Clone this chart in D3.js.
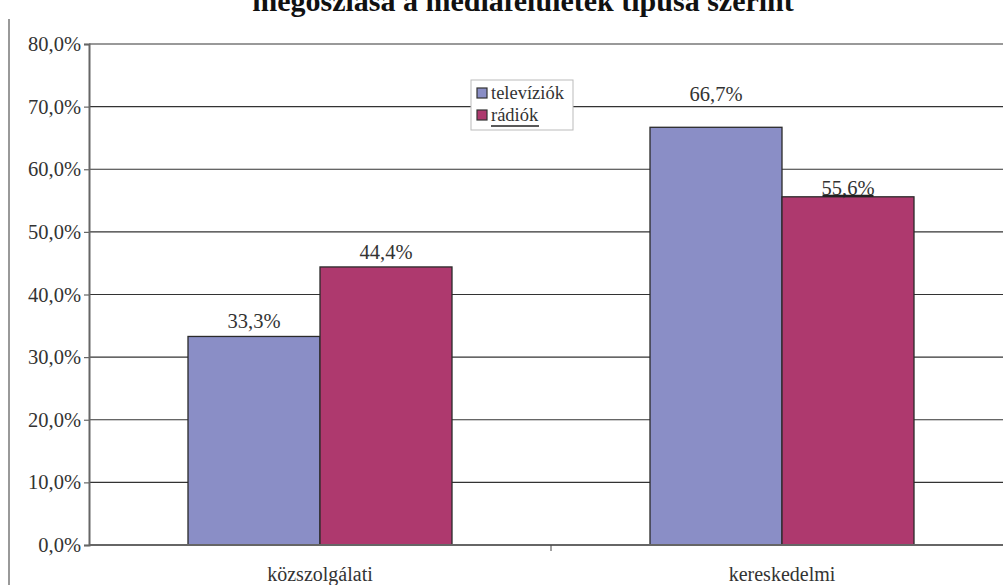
<!DOCTYPE html>
<html>
<head>
<meta charset="utf-8">
<script src="https://cdn.jsdelivr.net/npm/d3@7"></script>
<style>
  html, body { margin: 0; padding: 0; background: #fff; }
  svg { display: block; }
</style>
</head>
<body>
<svg id="chart" width="1003" height="585"></svg>
<script>
// Share of media outlets by type (public service vs. commercial)
const categories = ["közszolgálati", "kereskedelmi"];
const seriesNames = ["televíziók", "rádiók"];
const televiziok = [33.3, 66.7];
const radiok = [44.4, 55.6];
const valueLabels = [["33,3%", "66,7%"], ["44,4%", "55,6%"]];
const yTicks = [0, 10, 20, 30, 40, 50, 60, 70, 80];
const yTickLabels = ["0,0%", "10,0%", "20,0%", "30,0%", "40,0%", "50,0%", "60,0%", "70,0%", "80,0%"];
const titleText = "megoszlása a médiafelületek típusa szerint";

const colors = ["#8a8ec6", "#ae396e"];
const seriesValues = [televiziok, radiok];
// gap (px) between a bar top and its label baseline, [series][category]
const labelGap = [[8, 26], [8, 2]];

const svg = d3.select("#chart");
const serif = "'Liberation Serif', 'DejaVu Serif', serif";

const plotLeft = 89, plotRight = 1013, plotTop = 44, plotBottom = 545;

const x = d3.scaleBand().domain(categories).range([plotLeft, plotRight]).paddingInner(0).paddingOuter(0);
const xSeries = d3.scaleBand().domain(seriesNames)
  .range([0, x.bandwidth()]).paddingOuter(0.75).paddingInner(0);
const y = d3.scaleLinear().domain([0, 80]).range([plotBottom, plotTop]);

// outer frame line on the left
svg.append("line")
  .attr("x1", 9).attr("x2", 9).attr("y1", 19).attr("y2", 585)
  .attr("stroke", "#555").attr("stroke-width", 1.2);

// title (runs off the top edge of the page)
svg.append("text")
  .attr("x", 523).attr("y", 11)
  .attr("text-anchor", "middle")
  .attr("font-family", serif)
  .attr("font-weight", "bold")
  .attr("font-size", 30)
  .attr("fill", "#111")
  .text(titleText);

// horizontal gridlines
svg.append("g").selectAll("line")
  .data(yTicks.filter(d => d > 0))
  .join("line")
  .attr("x1", plotLeft).attr("x2", 1003)
  .attr("y1", d => y(d)).attr("y2", d => y(d))
  .attr("stroke", d => d === 80 ? "#999" : "#333")
  .attr("stroke-width", d => d === 80 ? 2 : 1.2);

// y axis
const yAxis = d3.axisLeft(y)
  .tickValues(yTicks)
  .tickFormat((d, i) => yTickLabels[i])
  .tickSize(5)
  .tickPadding(3);
const gy = svg.append("g").attr("transform", `translate(${plotLeft},0)`).call(yAxis);
gy.select(".domain").attr("stroke", "#666").attr("stroke-width", 2);
gy.selectAll(".tick line").attr("stroke", "#666").attr("stroke-width", 1.2);
gy.selectAll(".tick text")
  .attr("font-family", serif).attr("font-size", 20.5).attr("fill", "#333");

// bars
const groups = svg.append("g").selectAll("g")
  .data(categories)
  .join("g")
  .attr("transform", d => `translate(${x(d)},0)`);

groups.selectAll("rect")
  .data((c, ci) => seriesNames.map((s, si) => ({ s, si, v: seriesValues[si][ci] })))
  .join("rect")
  .attr("x", d => xSeries(d.s))
  .attr("width", xSeries.bandwidth())
  .attr("y", d => y(d.v))
  .attr("height", d => y(0) - y(d.v))
  .attr("fill", d => colors[d.si])
  .attr("stroke", "#2a2a2a")
  .attr("stroke-width", 1.3);

// x axis
const xAxis = d3.axisBottom(x).tickSize(0).tickPadding(22);
const gx = svg.append("g").attr("transform", `translate(0,${plotBottom})`).call(xAxis);
gx.select(".domain").remove();
svg.append("line")
  .attr("x1", plotLeft).attr("x2", 1003).attr("y1", plotBottom).attr("y2", plotBottom)
  .attr("stroke", "#666").attr("stroke-width", 2);
gx.selectAll(".tick text")
  .attr("font-family", serif).attr("font-size", 20).attr("fill", "#333");
// divider tick between categories
svg.append("line")
  .attr("x1", x(categories[1])).attr("x2", x(categories[1]))
  .attr("y1", plotBottom).attr("y2", plotBottom + 6)
  .attr("stroke", "#444").attr("stroke-width", 1);

// value labels with white backing
groups.each(function (c, ci) {
  const g = d3.select(this);
  seriesNames.forEach((s, si) => {
    const v = seriesValues[si][ci];
    const cx = xSeries(s) + xSeries.bandwidth() / 2;
    const t = g.append("text")
      .attr("x", cx).attr("y", y(v) - labelGap[si][ci])
      .attr("text-anchor", "middle")
      .attr("font-family", serif).attr("font-size", 20.5).attr("fill", "#333")
      .text(valueLabels[si][ci]);
    const bb = t.node().getBBox();
    if (ci === 1 && si === 0) {
      g.insert("rect", "text")
        .attr("x", bb.x - 2).attr("y", bb.y)
        .attr("width", bb.width + 4).attr("height", bb.height)
        .attr("fill", "#fff");
    }
    if (ci === 1 && si === 1) {
      g.append("line")
        .attr("x1", bb.x + 1).attr("x2", bb.x + bb.width - 1)
        .attr("y1", y(v) - 1).attr("y2", y(v) - 1)
        .attr("stroke", "#222").attr("stroke-width", 2.2);
    }
  });
});

// legend
const legend = svg.append("g").attr("transform", "translate(471,80)");
legend.append("rect")
  .attr("width", 102).attr("height", 50)
  .attr("fill", "#fff").attr("stroke", "#bbb").attr("stroke-width", 1);
seriesNames.forEach((s, i) => {
  legend.append("rect")
    .attr("x", 6).attr("y", 8 + i * 22)
    .attr("width", 10).attr("height", 10)
    .attr("fill", colors[i]).attr("stroke", "#333").attr("stroke-width", 1.2);
  const t = legend.append("text")
    .attr("x", 20).attr("y", 19 + i * 22)
    .attr("font-family", serif).attr("font-size", 18.5).attr("fill", "#333")
    .text(s);
  if (i === 1) {
    const bb = t.node().getBBox();
    legend.append("line")
      .attr("x1", bb.x).attr("x2", bb.x + bb.width)
      .attr("y1", 46).attr("y2", 46)
      .attr("stroke", "#222").attr("stroke-width", 1.5);
  }
});
</script>
</body>
</html>
